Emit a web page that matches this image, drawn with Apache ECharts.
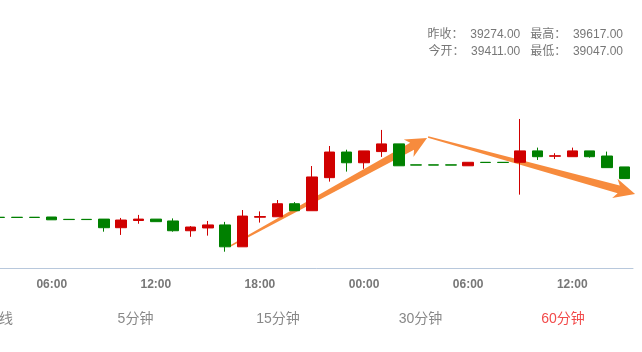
<!DOCTYPE html>
<html>
<head>
<meta charset="utf-8">
<script src="https://cdn.jsdelivr.net/npm/echarts@6/dist/echarts.min.js"></script>
<style>
  html, body { margin: 0; padding: 0; background: #fff; }
  #chart { width: 642px; height: 352px; }
</style>
</head>
<body>
<div id="chart"></div>
<script>
// hourly candles, 03:00 -> 15:00 next day
const hours = [
  "03:00", "04:00", "05:00", "06:00", "07:00", "08:00", "09:00", "10:00", "11:00", "12:00",
  "13:00", "14:00", "15:00", "16:00", "17:00", "18:00", "19:00", "20:00", "21:00", "22:00",
  "23:00", "00:00", "01:00", "02:00", "03:00", "04:00", "05:00", "06:00", "07:00", "08:00",
  "09:00", "10:00", "11:00", "12:00", "13:00", "14:00", "15:00"
];
const opens = [
  39195, 39195, 39195, 39196, 39186, 39186, 39187, 39150, 39181, 39187,
  39179, 39137, 39149, 39162, 39068, 39195, 39197, 39253, 39223, 39365,
  39475, 39429, 39477, 39510, 39420, 39420, 39420, 39416, 39431, 39431,
  39431, 39480, 39457, 39455, 39480, 39458, 39411
];
const closes = [
  39194, 39194, 39194, 39184, 39185, 39185, 39150, 39183, 39187, 39176,
  39137, 39153, 39162, 39068, 39200, 39198, 39253, 39223, 39368, 39475,
  39429, 39480, 39510, 39416, 39419, 39419, 39419, 39431, 39430, 39430,
  39480, 39455, 39459, 39480, 39455, 39408, 39361
];
const lows = [
  39194, 39194, 39194, 39184, 39185, 39185, 39133, 39119, 39167, 39176,
  39133, 39111, 39116, 39047, 39068, 39172, 39197, 39223, 39223, 39348,
  39391, 39403, 39454, 39416, 39419, 39419, 39419, 39416, 39430, 39430,
  39292, 39441, 39445, 39455, 39451, 39408, 39361
];
const highs = [
  39195, 39195, 39195, 39196, 39186, 39186, 39187, 39192, 39205, 39187,
  39190, 39157, 39179, 39175, 39226, 39220, 39269, 39260, 39415, 39501,
  39485, 39480, 39570, 39510, 39420, 39420, 39420, 39431, 39431, 39431,
  39617, 39494, 39470, 39494, 39480, 39477, 39411
];

// trend arrows: [fromIndex, fromPrice, toIndex, toPrice]
const arrows = [
  [13.28, 39071, 24.63, 39535],
  [24.69, 39540, 36.62, 39295]
];

const statLines = [
  ["昨收", "39274.00", "最高", "39617.00"],
  ["今开", "39411.00", "最低", "39047.00"]
];
const tabs = ["日K线", "5分钟", "15分钟", "30分钟", "60分钟"];
const activeTab = 4;

const kline = hours.map((h, i) => [opens[i], closes[i], lows[i], highs[i]]);

const chart = echarts.init(document.getElementById("chart"));

const UP = "#d00000";
const DOWN = "#008000";
const FONT = 'Arial, "Liberation Sans", "Noto Sans CJK SC", sans-serif';

function showTick(i) {
  return i % 6 === 3;
}

// tabs along the bottom
const tabGraphics = tabs.map((t, i) => {
  const first = i === 0;
  return {
    type: "text",
    x: first ? 13 : -7 + i * 142.5,
    y: 319,
    silent: true,
    style: {
      text: t,
      fill: i === activeTab ? "#f24a4a" : "#888",
      font: "14px " + FONT,
      align: first ? "right" : "center",
      verticalAlign: "middle",
    },
  };
});

const statGraphics = statLines.map((l, i) => ({
  type: "text",
  x: 623,
  y: 35 + i * 17,
  silent: true,
  style: {
    text: l[0] + "：  " + l[1] + "   " + l[2] + "：  " + l[3],
    fill: "#777",
    font: "12px " + FONT,
    align: "right",
    verticalAlign: "middle",
  },
}));

const option = {
  animation: false,
  backgroundColor: "#fff",
  grid: { left: -9, right: 9, top: 0, bottom: 84, outerBoundsMode: "none" },
  xAxis: [
    {
      type: "category",
      data: hours,
      boundaryGap: true,
      axisLine: { lineStyle: { color: "#b8c8dc", width: 1 } },
      axisTick: {
        alignWithLabel: true,
        length: 8,
        interval: showTick,
        lineStyle: { color: "#b8c8dc" },
      },
      axisLabel: {
        interval: showTick,
        margin: 11,
        color: "#777",
        fontWeight: "bold",
        fontSize: 12,
        fontFamily: FONT,
      },
      splitLine: { show: false },
    },
    {
      type: "value",
      min: -0.5,
      max: 36.5,
      show: false,
    },
  ],
  yAxis: {
    type: "value",
    min: 38977,
    max: 40128,
    show: false,
    splitLine: { show: false },
  },
  series: [
    {
      type: "candlestick",
      data: kline,
      barWidth: 11,
      itemStyle: {
        color: UP,
        color0: DOWN,
        borderColor: UP,
        borderColor0: DOWN,
        borderWidth: 1,
      },
    },
    {
      type: "custom",
      xAxisIndex: 1,
      clip: false,
      data: arrows,
      renderItem: function (params, api) {
        const p0 = api.coord([api.value(0), api.value(1)]);
        const p1 = api.coord([api.value(2), api.value(3)]);
        const dx = p1[0] - p0[0];
        const dy = p1[1] - p0[1];
        const len = Math.sqrt(dx * dx + dy * dy);
        const ux = dx / len, uy = dy / len;
        const nx = -uy, ny = ux;
        const headL = 21, headW = 10, backL = 4, tailW = 0.8, neckW = 4;
        const bx = p1[0] - ux * headL, by = p1[1] - uy * headL;
        const cx = bx + ux * backL, cy = by + uy * backL;
        const pts = [
          [p0[0] + nx * tailW, p0[1] + ny * tailW],
          [cx + nx * neckW, cy + ny * neckW],
          [bx + nx * headW, by + ny * headW],
          p1,
          [bx - nx * headW, by - ny * headW],
          [cx - nx * neckW, cy - ny * neckW],
          [p0[0] - nx * tailW, p0[1] - ny * tailW],
        ];
        return {
          type: "polygon",
          shape: { points: pts },
          style: { fill: "#f78b3d" },
        };
      },
    },
  ],
  graphic: statGraphics.concat(tabGraphics),
};

chart.setOption(option);
</script>
</body>
</html>
